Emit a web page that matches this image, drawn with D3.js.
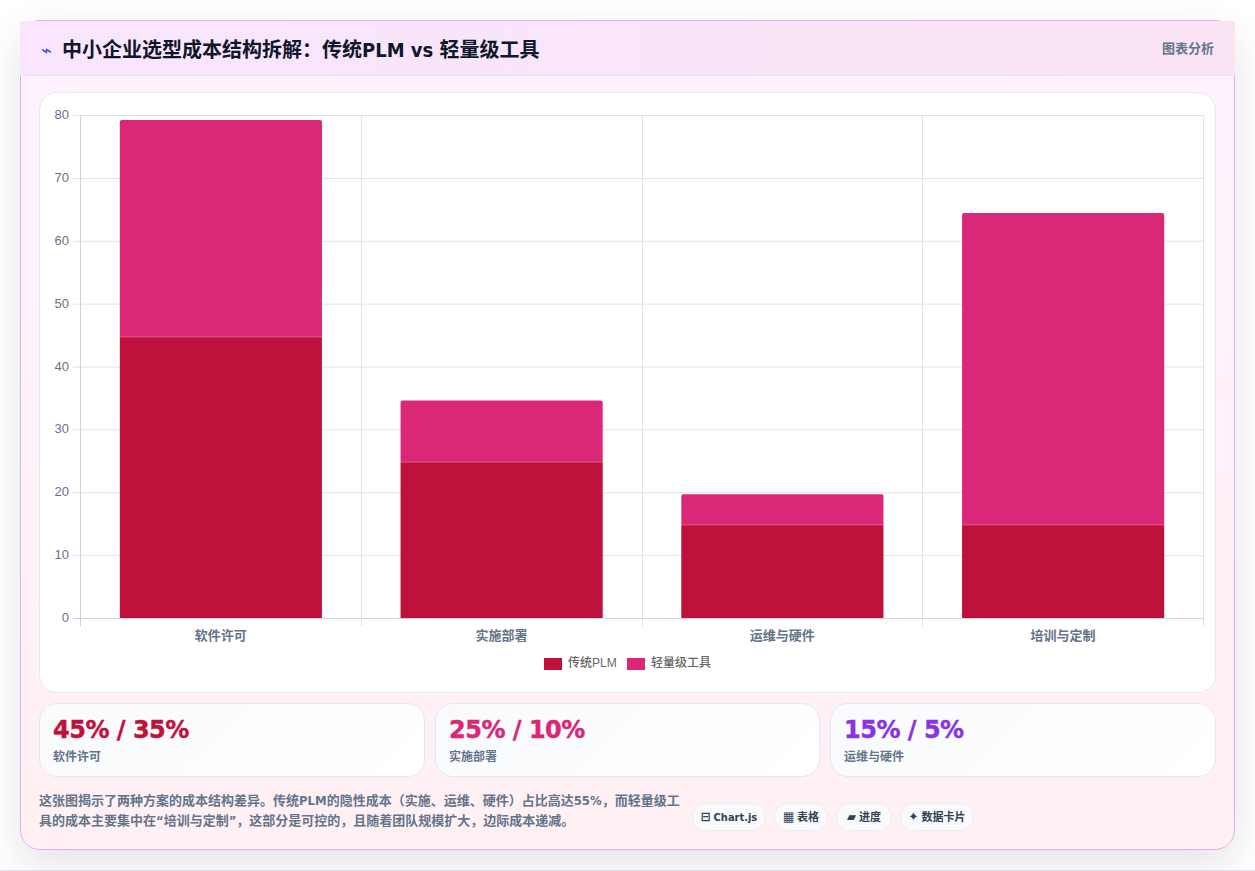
<!DOCTYPE html>
<html lang="zh"><head><meta charset="utf-8">
<script src="https://cdn.jsdelivr.net/npm/d3@7/dist/d3.min.js"></script>
<style>
html,body{margin:0;padding:0;background:#fff;width:1255px;height:871px;overflow:hidden;font-family:"DejaVu Sans Condensed","DejaVu Sans","Noto Sans CJK SC",sans-serif;font-stretch:condensed}
#foot{position:absolute;left:0;top:870px;width:1255px;height:1px;background:#e8e8ec}
#card{position:absolute;left:20px;top:20px;width:1213px;height:828px;border:1px solid #e8a9ef;border-radius:20px;background:linear-gradient(180deg,#fdf2ff,#fff0f3);box-shadow:0 14px 40px rgba(15,23,42,.12)}
#head{position:absolute;left:20px;top:21px;width:1215px;height:55px;background:linear-gradient(90deg,#f9e6fe,#fae4f3);border-bottom:1px solid #ece2f6;box-sizing:border-box;border-radius:0}
#bolt{position:absolute;left:41px;top:38px;font-size:20px;color:#3b4fd8;line-height:24px}
#title{position:absolute;left:62px;top:36px;font-size:20px;line-height:28px;font-weight:700;color:#0f172a;white-space:nowrap}
#tag{position:absolute;right:41px;top:40px;font-size:13px;line-height:18px;font-weight:600;color:#64748b;white-space:nowrap}
#panel{position:absolute;left:39px;top:92px;width:1175px;height:599px;background:#fff;border:1px solid #e6e8f2;border-radius:18px}
svg{position:absolute;left:0;top:0}
.stat{position:absolute;top:703px;height:72px;background:linear-gradient(135deg,#f8fafc,#fff);border:1px solid #e3e6f6;border-radius:18px;box-sizing:content-box}
.stat b{position:absolute;left:13px;top:11px;font-family:"DejaVu Sans";font-stretch:normal;font-size:24px;line-height:30px;font-weight:800;letter-spacing:-.5px;-webkit-text-stroke:.4px currentColor;white-space:nowrap}
.stat span{position:absolute;left:13px;top:45px;font-size:12px;line-height:17px;font-weight:600;color:#64748b;white-space:nowrap}
#note{position:absolute;left:39px;top:791px;width:642px;font-size:13px;line-height:20px;font-weight:600;color:#64748b}
.chip{position:absolute;top:803px;height:26px;line-height:27px;background:#f8fafc;border:1px solid #eceef6;border-radius:14px;font-size:11px;font-weight:700;color:#334155;text-align:center;white-space:nowrap}
.chip i{font-style:normal;font-size:13px;line-height:20px;margin-right:3px}
</style></head><body>
<div id="foot"></div><div id="card"></div><div id="head"></div>
<div id="bolt">⌁</div><div id="title"></div><div id="tag"></div><div id="panel"></div>
<svg id="chart" width="1255" height="871"></svg>
<div id="stats"></div><div id="note"></div><div id="chips"></div>
<script>
const titleText="中小企业选型成本结构拆解：传统PLM vs 轻量级工具";
const tagText="图表分析";
const categories=["软件许可","实施部署","运维与硬件","培训与定制"];
const seriesNames=["传统PLM","轻量级工具"];
const traditional=[44.7,24.8,14.8,14.8];
const light=[34.5,9.8,4.9,49.6];
const seriesColors=["#be123c","#db2777"];
const yTicks=[0,10,20,30,40,50,60,70,80];
const statValues=["45% / 35%","25% / 10%","15% / 5%"];
const statLabels=["软件许可","实施部署","运维与硬件"];
const statColors=["#be123c","#db2777","#8b33e2"];
const noteText="这张图揭示了两种方案的成本结构差异。传统PLM的隐性成本（实施、运维、硬件）占比高达55%，而轻量级工具的成本主要集中在“培训与定制”，这部分是可控的，且随着团队规模扩大，边际成本递减。";
const chipIcons=["⊟","▦","▰","✦"];
const chipLabels=["Chart.js","表格","进度","数据卡片"];

d3.select("#title").text(titleText);
d3.select("#tag").text(tagText);
d3.select("#note").text(noteText);

const svg=d3.select("#chart");
const x=d3.scaleBand().domain(categories).range([80.5,1203.5]).paddingInner(0.28).paddingOuter(0.14);
const y=d3.scaleLinear().domain([0,80]).range([618,115]);
const gridCol="#dfe3e8",axisCol="#cdd3de";
const edges=d3.range(categories.length+1).map(i=>80+i*x.step());
svg.append("g").selectAll("line").data(yTicks).join("line")
 .attr("x1",73).attr("x2",1203).attr("y1",d=>y(d)+.5).attr("y2",d=>y(d)+.5)
 .attr("stroke",d=>d===0?axisCol:gridCol);
svg.append("g").selectAll("line").data(edges).join("line")
 .attr("x1",d=>Math.round(d)+.5).attr("x2",d=>Math.round(d)+.5).attr("y1",115).attr("y2",626)
 .attr("stroke",(d,i)=>i===0?axisCol:gridCol);
svg.append("g").selectAll("text").data(yTicks).join("text")
 .attr("x",69).attr("y",d=>y(d)+4).attr("text-anchor","end")
 .attr("font-family","Liberation Sans").attr("font-size",13).attr("font-stretch","normal").attr("fill","#64748b").text(d=>d);
svg.append("g").selectAll("text").data(categories).join("text")
 .attr("x",d=>x(d)+x.bandwidth()/2).attr("y",640).attr("text-anchor","middle")
 .attr("font-family","Noto Sans CJK SC").attr("font-size",13).attr("font-weight",600).attr("fill","#64748b").text(d=>d);
const r=2;
svg.append("g").selectAll("rect").data(categories).join("rect")
 .attr("x",d=>x(d)).attr("width",x.bandwidth())
 .attr("y",(d,i)=>y(traditional[i])).attr("height",(d,i)=>y(0)-y(traditional[i]))
 .attr("fill",seriesColors[0]);
svg.append("g").selectAll("path").data(categories).join("path")
 .attr("fill",seriesColors[1])
 .attr("d",(d,i)=>{const p=d3.path(),l=x(d),w=x.bandwidth(),t=y(traditional[i]+light[i]),b=y(traditional[i]);
   p.moveTo(l,b);p.lineTo(l,t+r);p.arcTo(l,t,l+r,t,r);p.lineTo(l+w-r,t);p.arcTo(l+w,t,l+w,t+r,r);p.lineTo(l+w,b);p.closePath();return p.toString();});
svg.append("g").selectAll("line").data(categories).join("line")
 .attr("x1",d=>x(d)).attr("x2",d=>x(d)+x.bandwidth()).attr("y1",(d,i)=>y(traditional[i])).attr("y2",(d,i)=>y(traditional[i]))
 .attr("stroke","#fff").attr("stroke-opacity",.25);
// legend
const legendX=[544,627];
const lg=svg.append("g").selectAll("g").data(seriesNames).join("g");
lg.append("rect").attr("x",(d,i)=>legendX[i]).attr("y",658).attr("width",18).attr("height",12).attr("fill",(d,i)=>seriesColors[i]);
lg.append("text").attr("x",(d,i)=>legendX[i]+24).attr("y",667).attr("font-family","Liberation Sans, Noto Sans CJK SC").attr("font-stretch","normal").attr("font-size",12).attr("font-weight",500).attr("fill","#666").text(d=>d);
// stats
const statX=[39,435,830],statW=[384,383,384];
const st=d3.select("#stats").selectAll("div").data(statValues).join("div").attr("class","stat")
 .style("left",(d,i)=>statX[i]+"px").style("width",(d,i)=>statW[i]+"px");
st.append("b").style("color",(d,i)=>statColors[i]).text(d=>d);
st.append("span").text((d,i)=>statLabels[i]);
// chips
const chipX=[692,774,836,900],chipW=[72,52,54,72];
const ch=d3.select("#chips").selectAll("div").data(chipLabels).join("div").attr("class","chip")
 .style("left",(d,i)=>chipX[i]+"px").style("width",(d,i)=>chipW[i]+"px");
ch.append("i").text((d,i)=>chipIcons[i]);
ch.append("span").text(d=>d);
</script></body></html>
